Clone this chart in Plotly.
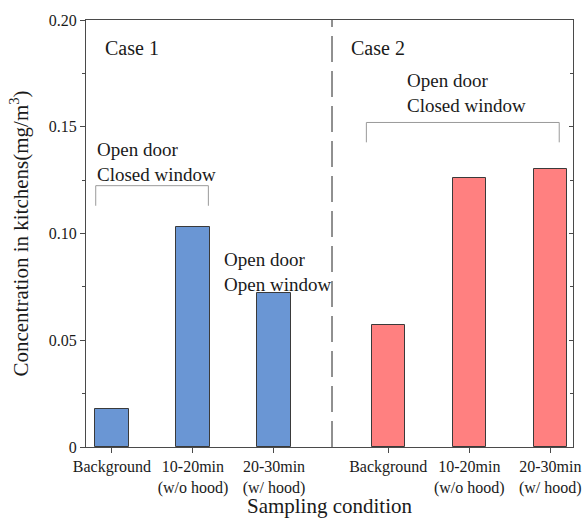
import plotly.graph_objects as go

# ---- data ----
case1_pos = [1, 2, 3]
case2_pos = [4.41, 5.41, 6.41]
case1_vals = [0.018, 0.103, 0.072]
case2_vals = [0.057, 0.126, 0.130]
tick_pos = case1_pos + case2_pos
tick_labels = ["Background", "10-20min<br>(w/o hood)", "20-30min<br>(w/ hood)",
               "Background", "10-20min<br>(w/o hood)", "20-30min<br>(w/ hood)"]
y_ticks = [0, 0.05, 0.10, 0.15, 0.20]
y_ticklabels = ["0", "0.05", "0.10", "0.15", "0.20"]

FONT = "Liberation Serif, Times New Roman, serif"
AX = "#4a4a4a"

fig = go.Figure()
fig.add_trace(go.Bar(x=case1_pos, y=case1_vals, width=0.41,
                     marker=dict(color="#6A96D4", line=dict(color="#3a3a3a", width=1)),
                     name="Case 1", showlegend=False))
fig.add_trace(go.Bar(x=case2_pos, y=case2_vals, width=0.41,
                     marker=dict(color="#FF8080", line=dict(color="#3a3a3a", width=1)),
                     name="Case 2", showlegend=False))
# invisible trace to drive the mirrored right axis
fig.add_trace(go.Scatter(x=[None], y=[None], yaxis="y2", showlegend=False, hoverinfo="skip"))

fig.update_layout(
    width=587, height=518,
    margin=dict(l=86, r=14, t=20, b=71),
    plot_bgcolor="white", paper_bgcolor="white",
    font=dict(family=FONT, color="#1a1a1a", size=16),
    xaxis=dict(range=[0.68, 6.69], tickmode="array", tickvals=tick_pos, ticktext=tick_labels,
               ticks="outside", ticklen=5, tickcolor=AX, showline=True, linecolor=AX,
               linewidth=1.2, mirror=True, showgrid=False, zeroline=False, automargin=False,
               tickfont=dict(size=16, family=FONT),
               title=dict(text="Sampling condition", font=dict(size=21, family=FONT), standoff=8)),
    yaxis=dict(range=[0, 0.2], tickmode="array", tickvals=y_ticks, ticktext=y_ticklabels,
               ticks="outside", ticklen=5, tickcolor=AX, showline=True, linecolor=AX,
               linewidth=1.2, showgrid=False, zeroline=False, automargin=False,
               minor=dict(ticks="outside", ticklen=3, tickcolor=AX, dtick=0.025, showgrid=False),
               tickfont=dict(size=16, family=FONT),
               title=dict(text="Concentration in kitchens(mg/m<sup>3</sup>)",
                          font=dict(size=21, family=FONT), standoff=14)),
    yaxis2=dict(overlaying="y", side="right", range=[0, 0.2], matches="y", automargin=False,
                tickmode="array", tickvals=y_ticks, ticks="inside", ticklen=4, tickcolor=AX,
                showticklabels=False, showline=True, linecolor=AX, linewidth=1.2,
                showgrid=False, zeroline=False,
                minor=dict(ticks="inside", ticklen=3, tickcolor=AX, dtick=0.025)),
    bargap=0,
)

# dashed separator
fig.add_shape(type="line", xref="x", yref="paper", x0=3.716, x1=3.716, y0=0, y1=1,
              line=dict(color="#555555", width=1.3, dash="26px,9px"))

# brackets
BR = "#9a9a9a"
for (xa, xb, ytop, ybot) in [(0.80, 2.19, 0.1224, 0.113), (4.14, 6.52, 0.152, 0.1427)]:
    fig.add_shape(type="line", x0=xa, x1=xb, y0=ytop, y1=ytop, line=dict(color=BR, width=1))
    fig.add_shape(type="line", x0=xa, x1=xa, y0=ytop, y1=ybot, line=dict(color=BR, width=1))
    fig.add_shape(type="line", x0=xb, x1=xb, y0=ytop, y1=ybot, line=dict(color=BR, width=1))

ann = dict(showarrow=False, xanchor="left", yanchor="middle", align="left",
           font=dict(family=FONT, size=19, color="#1a1a1a"))
fig.add_annotation(x=0.89, y=0.1869, text="Case 1", **{**ann, "font": dict(family=FONT, size=20, color="#1a1a1a")})
fig.add_annotation(x=3.92, y=0.1869, text="Case 2", **{**ann, "font": dict(family=FONT, size=20, color="#1a1a1a")})
fig.add_annotation(x=0.79, y=0.1335, text="Open door<br>Closed window", **ann)
fig.add_annotation(x=2.36, y=0.0822, text="Open door<br>Open window", **ann)
fig.add_annotation(x=4.62, y=0.1660, text="Open door<br>Closed window", **ann)

fig.write_html("out.html", config={"displayModeBar": False},
               post_script="document.body.style.margin='0';document.body.style.overflow='hidden';")
